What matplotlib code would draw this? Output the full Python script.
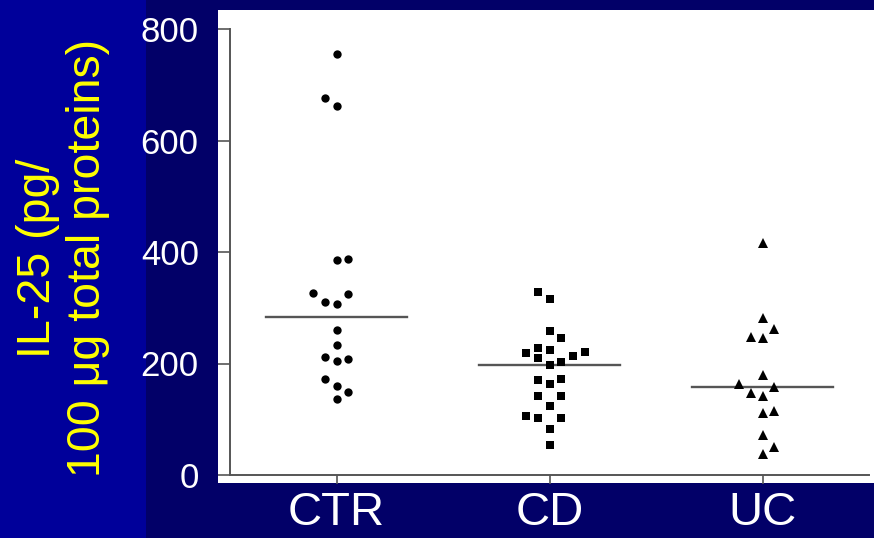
import matplotlib
matplotlib.use("Agg")
import matplotlib.pyplot as plt
from matplotlib.patches import Rectangle

plt.rcParams["font.family"] = ["Liberation Sans", "DejaVu Sans"]

# ========== 数据 ==========
GROUPS = ["CTR", "CD", "UC"]
MARKERS = ["o", "s", "^"]

CTR_VALUES = [755, 677, 662, 386, 388, 327, 310, 306, 325, 260, 233, 212, 205, 208, 172, 160, 148, 136]
CTR_SLOTS = [0, -1, 0, 0, 1, -2, -1, 0, 1, 0, 0, -1, 0, 1, -1, 0, 1, 0]

CD_VALUES = [329, 316, 258, 246, 218, 227, 225, 210, 214, 221, 197, 203, 170, 163, 173,
             141, 141, 124, 106, 102, 102, 83, 53]
CD_SLOTS = [-1, 0, 0, 1, -2, -1, 0, -1, 2, 3, 0, 1, -1, 0, 1, -1, 1, 0, -2, -1, 1, 0, 0]

UC_VALUES = [417, 282, 262, 248, 246, 180, 164, 157, 147, 141, 111, 115, 71, 51, 37]
UC_SLOTS = [0, 0, 1, -1, 0, 0, -2, 1, -1, 0, 0, 1, 0, 1, 0]

MEDIANS = [283, 197, 157]

VALUES = [CTR_VALUES, CD_VALUES, UC_VALUES]
SLOTS = [CTR_SLOTS, CD_SLOTS, UC_SLOTS]

SLOT_WIDTH = 0.056
YTICKS = [0, 200, 400, 600, 800]

# ========== 画布 ==========
W, H = 874, 538
fig = plt.figure(figsize=(W / 100, H / 100), dpi=100)
fig.patch.set_facecolor("#020068")

# 左侧较亮的蓝色条
fig.patches.append(Rectangle((0, 0), 146 / W, 1, transform=fig.transFigure,
                             facecolor="#00009a", edgecolor="none", zorder=0))
# 白色绘图底板
fig.patches.append(Rectangle((218 / W, 1 - 483 / H), (W - 218) / W, (483 - 10) / H,
                             transform=fig.transFigure, facecolor="white",
                             edgecolor="none", zorder=0))

ax = fig.add_axes([230 / W, 1 - 475 / H, 639 / W, 446 / H])
ax.set_facecolor("none")
ax.set_zorder(5)

MARKER_SIZES = {"o": 6, "s": 6.2, "^": 7}
for i, (vals, slots) in enumerate(zip(VALUES, SLOTS)):
    xs = [i + s * SLOT_WIDTH for s in slots]
    ax.plot(xs, vals, linestyle="none", marker=MARKERS[i],
            markersize=MARKER_SIZES[MARKERS[i]],
            color="black", markeredgewidth=0, clip_on=False, zorder=3)
    ax.plot([i - 0.333, i + 0.333], [MEDIANS[i], MEDIANS[i]], color="#555555",
            linewidth=1.7, zorder=2)

ax.set_xlim(-0.5, 2.5)
ax.set_ylim(0, 800)
ax.set_xticks(range(len(GROUPS)))
ax.set_xticklabels(GROUPS)
ax.set_yticks(YTICKS)

for side in ["top", "right"]:
    ax.spines[side].set_visible(False)
for side in ["left", "bottom"]:
    ax.spines[side].set_color("#555555")
    ax.spines[side].set_linewidth(1.4)

ax.tick_params(axis="y", direction="out", length=8.5, width=1.2, color="#555555",
               labelcolor="white", labelsize=25, pad=14)
ax.tick_params(axis="x", direction="out", length=6.5, width=1.2, color="#555555",
               labelcolor="white", labelsize=34, pad=5)

fig.text(63 / W, 1 - 258 / H, "IL-25 (pg/\n100 \u03bcg total proteins)",
         rotation=90, ha="center", va="center", multialignment="center",
         color="#ffff00", fontsize=33.5, linespacing=1.2)

fig.savefig("out.png", dpi=100, facecolor=fig.get_facecolor())
